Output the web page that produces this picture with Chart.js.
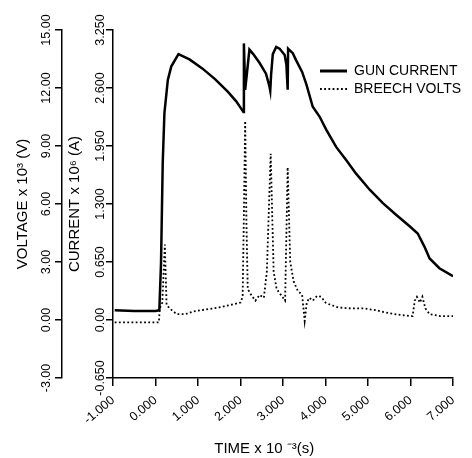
<!DOCTYPE html>
<html>
<head>
<meta charset="utf-8">
<script src="https://cdn.jsdelivr.net/npm/chart.js@4.4.1/dist/chart.umd.min.js"></script>
<style>
  html, body { margin: 0; padding: 0; background: #fff; }
  #wrap { width: 472px; height: 458px; }
</style>
</head>
<body>
<div id="wrap"><canvas id="c" width="472" height="458"></canvas></div>
<script>
// ---- data ----
const TIME_TICKS = [-1, 0, 1, 2, 3, 4, 5, 6, 7];
const TIME_LABELS = ["-1.000", "0.000", "1.000", "2.000", "3.000", "4.000", "5.000", "6.000", "7.000"];
const CURRENT_TICKS = [-0.65, 0, 0.65, 1.3, 1.95, 2.6, 3.25];
const CURRENT_LABELS = ["-0.650", "0.00", "0.650", "1.300", "1.950", "2.600", "3.250"];
const VOLT_TICKS = [-3, 0, 3, 6, 9, 12, 15];
const VOLT_LABELS = ["-3.00", "0.00", "3.00", "6.00", "9.00", "12.00", "15.00"];

// gun current (x 10^6 A) vs time (x 10^-3 s)
const gunTime = [-0.96, -0.5, 0.0, 0.09, 0.13, 0.17, 0.21, 0.29, 0.37, 0.54, 0.8, 1.1, 1.4, 1.7, 1.9, 2.07,
  2.08, 2.11, 2.21, 2.3, 2.45, 2.6, 2.68, 2.70, 2.72, 2.76, 2.84, 2.92, 3.04, 3.08, 3.11, 3.12, 3.23, 3.31,
  3.45, 3.55, 3.70, 3.86, 4.02, 4.25, 4.49, 4.72, 5.04, 5.35, 5.66, 5.98, 6.17, 6.33, 6.45, 6.68, 7.0];
const gunCurrent = [0.11, 0.10, 0.10, 0.11, 0.64, 1.76, 2.32, 2.69, 2.84, 2.98, 2.92, 2.82, 2.70, 2.56, 2.45, 2.33,
  3.10, 2.58, 3.03, 2.98, 2.88, 2.76, 2.62, 2.57, 2.75, 2.98, 3.06, 3.04, 2.97, 2.86, 2.58, 3.04, 2.99, 2.91,
  2.78, 2.64, 2.39, 2.28, 2.13, 1.94, 1.79, 1.64, 1.46, 1.31, 1.18, 1.05, 0.97, 0.82, 0.69, 0.58, 0.49];

// breech volts (x 10^3 V) vs time (x 10^-3 s)
const breechTime = [-0.96, 0.08, 0.10, 0.16, 0.22, 0.26, 0.33, 0.5, 0.7, 0.9, 1.2, 1.5, 1.8, 2.0, 2.05, 2.08, 2.11,
  2.14, 2.17, 2.25, 2.35, 2.45, 2.55, 2.62, 2.71, 2.78, 2.85, 2.95, 3.05, 3.11, 3.17, 3.25, 3.35, 3.45, 3.51,
  3.56, 3.62, 3.7, 3.8, 3.9, 4.0, 4.1, 4.3, 4.6, 4.9, 5.2, 5.5, 5.8, 6.05, 6.1, 6.15, 6.22, 6.28, 6.35, 6.45, 6.7, 7.0];
const breechVolts = [-0.12, -0.12, 0.6, 0.9, 3.9, 0.8, 0.6, 0.3, 0.3, 0.45, 0.55, 0.65, 0.8, 0.9, 1.2, 5.5, 10.3,
  5.0, 1.6, 1.3, 1.0, 1.3, 1.15, 2.5, 8.6, 2.5, 1.6, 1.3, 1.0, 7.9, 3.0, 2.0, 1.5, 1.3, -0.05,
  0.9, 1.15, 1.0, 1.25, 1.2, 0.9, 0.8, 0.65, 0.6, 0.6, 0.5, 0.35, 0.25, 0.2, 1.0, 1.2, 0.9, 1.2, 0.6, 0.3, 0.2, 0.2];

const FONT = "'Liberation Sans', Arial, Helvetica, sans-serif";
const toPts = (xs, ys) => xs.map((x, i) => ({ x: x, y: ys[i] }));

const legendPlace = {
  id: 'legendPlace',
  afterLayout(chart) {
    const lg = chart.legend;
    if (!lg) return;
    lg.left = 316; lg.right = 472; lg.top = 60; lg.bottom = 378;
  }
};

new Chart(document.getElementById('c'), {
  type: 'line',
  data: {
    datasets: [
      {
        label: 'GUN CURRENT',
        data: toPts(gunTime, gunCurrent),
        yAxisID: 'yI',
        borderColor: '#000',
        backgroundColor: '#000',
        borderWidth: 2.5,
        pointRadius: 0,
        tension: 0
      },
      {
        label: 'BREECH VOLTS',
        data: toPts(breechTime, breechVolts),
        yAxisID: 'yV',
        borderColor: '#000',
        backgroundColor: '#000',
        borderWidth: 1.8,
        borderDash: [1.8, 2.4],
        pointRadius: 0,
        tension: 0
      }
    ]
  },
  options: {
    responsive: false,
    animation: false,
    devicePixelRatio: 1,
    layout: { padding: { left: 0, top: 30, right: 19, bottom: 0 } },
    plugins: {
      tooltip: { enabled: false },
      legend: {
        position: 'chartArea',
        align: 'start',
        labels: {
          usePointStyle: true,
          pointStyle: 'line',
          pointStyleWidth: 27,
          padding: 4,
          color: '#000',
          font: { family: FONT, size: 14 },
          generateLabels: (chart) => {
            const items = Chart.defaults.plugins.legend.labels.generateLabels(chart);
            items.forEach(it => {
              const ds = chart.data.datasets[it.datasetIndex];
              it.lineWidth = it.datasetIndex === 0 ? 3 : ds.borderWidth;
              it.lineDash = ds.borderDash || [];
              it.strokeStyle = '#000';
              it.pointStyle = 'line';
            });
            return items;
          }
        }
      }
    },
    scales: {
      x: {
        type: 'linear',
        position: 'bottom',
        min: -1, max: 7,
        afterBuildTicks: (s) => { s.ticks = TIME_TICKS.map(v => ({ value: v })); },
        afterFit: (s) => { s.height = 80; },
        ticks: {
          autoSkip: false,
          minRotation: 40, maxRotation: 40,
          padding: 7,
          color: '#000',
          font: { family: FONT, size: 12.5 },
          callback: (v, i) => TIME_LABELS[i]
        },
        grid: { display: true, drawOnChartArea: false, drawTicks: true, tickLength: 8, color: '#000', lineWidth: 1.5 },
        border: { display: true, color: '#000', width: 1.5 },
        title: {
          display: true,
          text: 'TIME x 10 \u207B\u00B3(s)         ',
          color: '#000',
          font: { family: FONT, size: 15 },
          padding: { top: 0, bottom: 0 }
        }
      },
      yV: {
        type: 'linear',
        position: 'left',
        weight: 10,
        min: -3, max: 15,
        afterBuildTicks: (s) => { s.ticks = VOLT_TICKS.map(v => ({ value: v })); },
        afterFit: (s) => { s.width = 62; },
        ticks: {
          autoSkip: false,
          minRotation: 90, maxRotation: 90,
          crossAlign: 'center',
          padding: -7,
          color: '#000',
          font: { family: FONT, size: 12.5 },
          callback: (v, i) => VOLT_LABELS[i]
        },
        grid: { display: true, drawOnChartArea: false, drawTicks: true, tickLength: 7, color: '#000', lineWidth: 1.5 },
        border: { display: true, color: '#000', width: 1.5 },
        title: {
          display: true,
          text: 'VOLTAGE x 10\u00B3 (V)',
          color: '#000',
          font: { family: FONT, size: 15 },
          padding: { top: 14, bottom: 0 }
        }
      },
      yI: {
        type: 'linear',
        position: 'left',
        weight: 5,
        min: -0.65, max: 3.25,
        afterBuildTicks: (s) => { s.ticks = CURRENT_TICKS.map(v => ({ value: v })); },
        afterFit: (s) => { s.width = 51; },
        ticks: {
          autoSkip: false,
          minRotation: 90, maxRotation: 90,
          crossAlign: 'center',
          padding: -12,
          color: '#000',
          font: { family: FONT, size: 12.5 },
          callback: (v, i) => CURRENT_LABELS[i]
        },
        grid: { display: true, drawOnChartArea: false, drawTicks: true, tickLength: 7, color: '#000', lineWidth: 1.5 },
        border: { display: true, color: '#000', width: 1.5 },
        title: {
          display: true,
          text: 'CURRENT x 10\u2076 (A)',
          color: '#000',
          font: { family: FONT, size: 15 },
          padding: { top: 4, bottom: 0 }
        }
      }
    }
  },
  plugins: [legendPlace]
});
</script>
</body>
</html>
